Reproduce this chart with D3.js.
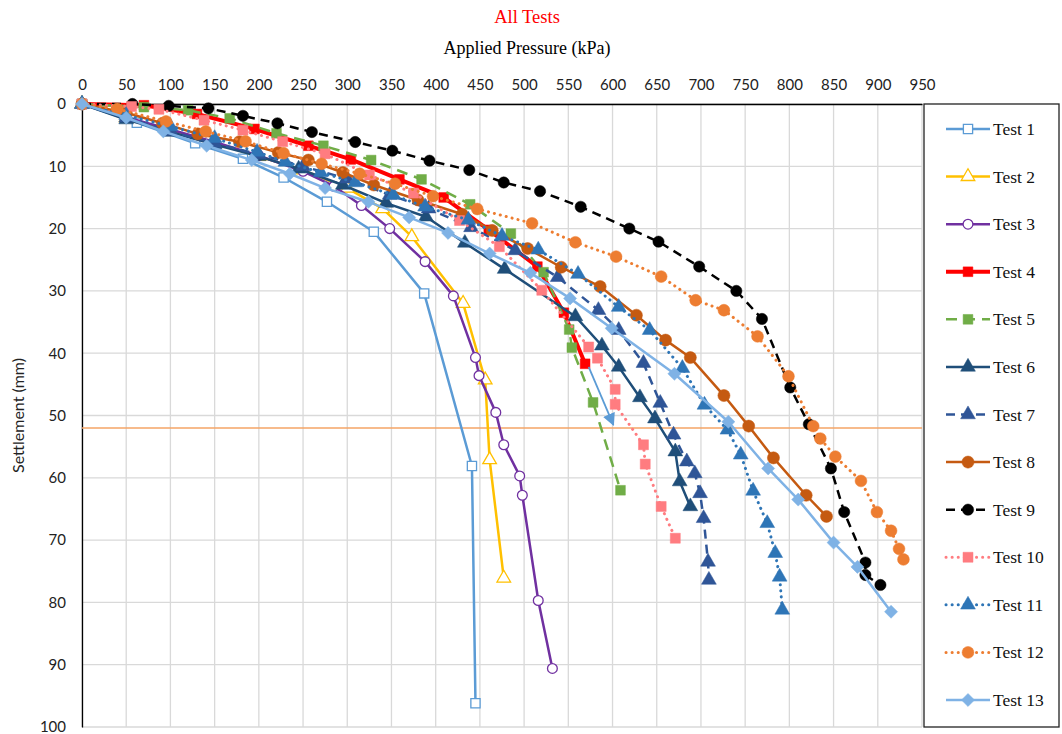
<!DOCTYPE html>
<html><head><meta charset="utf-8">
<script src="https://cdn.jsdelivr.net/npm/d3@7"></script>
<style>body{margin:0;background:#fff}</style>
</head><body>
<svg id="c" width="1062" height="734"></svg>
<script>
// ---------- data ----------
const xTicks = d3.range(0, 951, 50);
const yTicks = d3.range(0, 101, 10);
const seriesNames = ["Test 1","Test 2","Test 3","Test 4","Test 5","Test 6","Test 7","Test 8","Test 9","Test 10","Test 11","Test 12","Test 13"];
const test1 = [[0,0],[62,3.0],[128,6.3],[182,8.8],[228,11.8],[277,15.7],[330,20.5],[387,30.4],[441,58.1],[445,96.2]];
const test2 = [[0,0],[50,2.2],[100,4.3],[150,6.3],[200,8.4],[250,10.6],[300,13.5],[340,16.8],[373,21.3],[431,32.0],[456,44.3],[461,57.1],[477,76.1]];
const test3 = [[0,0],[50,2.1],[100,4.1],[150,6.1],[200,8.3],[250,10.8],[285,13.2],[316,16.3],[348,20.0],[388,25.3],[420,30.8],[445,40.7],[449,43.6],[468,49.5],[477,54.7],[495,59.7],[498,62.8],[516,79.7],[532,90.6]];
const test4 = [[0,0],[70,0.2],[130,1.6],[195,4.0],[256,6.7],[304,8.9],[359,12.1],[409,15.0],[460,20.2],[515,26.1],[545,33.5],[569,41.7]];
const test5 = [[0,0],[70,0.5],[120,1.0],[167,2.3],[220,4.7],[273,6.7],[327,9.0],[384,12.1],[439,16.1],[485,20.8],[522,27.0],[551,36.2],[554,39.1],[578,47.9],[609,62.0]];
const test6 = [[0,0],[50,2.5],[100,4.5],[150,6.5],[200,8.4],[245,10.4],[295,13.0],[344,15.9],[389,18.1],[433,22.3],[478,26.5],[558,34.1],[588,38.8],[607,42.2],[631,47.1],[648,50.5],[671,55.8],[676,60.6],[688,64.6]];
const test7 = [[0,0],[50,2.2],[100,4.4],[150,6.3],[200,8.1],[250,10.0],[300,12.0],[348,14.6],[392,16.8],[440,19.8],[490,23.5],[538,27.8],[584,33.1],[607,36.3],[635,41.6],[654,48.0],[669,53.1],[684,57.4],[693,59.3],[699,62.5],[703,66.5],[708,73.5],[709,76.4]];
const test8 = [[0,0],[50,1.4],[91,3.1],[131,4.8],[178,6.05],[222,7.8],[256,9.0],[295,11.0],[330,13.0],[380,15.4],[430,17.7],[464,20.3],[504,23.2],[542,26.2],[586,29.3],[627,33.9],[660,37.9],[688,40.7],[726,46.8],[754,51.7],[782,56.8],[819,62.8],[842,66.2]];
const test9 = [[0,0],[57,0],[98,0.3],[143,0.7],[182,1.9],[221,3.1],[260,4.5],[309,6.1],[351,7.5],[393,9.1],[438,10.6],[477,12.6],[518,14.0],[564,16.5],[619,20.0],[652,22.1],[698,26.1],[740,30.0],[769,34.5],[801,45.5],[822,51.4],[847,58.5],[862,65.5],[886,73.6],[886,75.6],[903,77.2]];
const test10 = [[0,0],[56,0.4],[87,0.85],[138,2.6],[182,4.2],[227,6.05],[275,8.0],[325,11.4],[375,14.3],[427,18.7],[472,22.9],[520,29.9],[573,39.0],[583,40.8],[603,45.8],[603,48.2],[635,54.7],[637,57.8],[655,64.6],[671,69.7]];
const test11 = [[0,0],[50,1.8],[100,3.6],[150,5.5],[198,7.7],[230,9.3],[270,11.0],[309,12.6],[352,14.6],[388,16.5],[437,18.6],[475,21.2],[516,23.4],[561,27.3],[607,32.6],[642,36.3],[679,42.4],[704,48.3],[730,52.3],[745,56.3],[759,62.1],[775,67.3],[784,72.1],[789,75.9],[792,81.2]];
const test12 = [[0,0],[40,0.8],[95,2.8],[140,4.4],[185,6.0],[228,7.9],[271,9.6],[314,11.2],[354,12.8],[397,14.8],[447,16.85],[509,19.15],[558,22.2],[604,24.5],[655,27.7],[694,31.5],[726,33.1],[764,37.3],[799,43.7],[827,51.7],[835,53.7],[852,56.6],[881,60.5],[899,65.5],[915,68.5],[924,71.4],[929,73.1]];
const test13 = [[0,0],[50,2.2],[92,4.4],[141,6.7],[192,9.0],[235,11.2],[275,13.5],[324,15.7],[370,18.2],[414,20.7],[461,24.0],[507,27.1],[552,31.2],[599,36.0],[670,43.3],[731,51.0],[776,58.5],[810,63.5],[850,70.4],[877,74.3],[915,81.5]];
const limitLine = 52;
const arrowData = [[573,42.2],[601,51.5]];

// ---------- styles ----------
const seriesData = [test1,test2,test3,test4,test5,test6,test7,test8,test9,test10,test11,test12,test13];
const colors = ["#5B9BD5","#FFC000","#7030A0","#FF0000","#70AD47","#1F4E79","#2F5597","#C55A11","#000000","#FF7C80","#2E75B6","#ED7D31","#7FB2E5"];
const symbols = [d3.symbolSquare,d3.symbolTriangle,d3.symbolCircle,d3.symbolSquare,d3.symbolSquare,d3.symbolTriangle,d3.symbolTriangle,d3.symbolCircle,d3.symbolCircle,d3.symbolSquare,d3.symbolTriangle,d3.symbolCircle,d3.symbolSquare];
const rot = [0,0,0,0,0,0,0,0,0,0,0,0,45];
const open = [true,true,true,false,false,false,false,false,false,false,false,false,false];
const dashes = [null,null,null,null,"11,7",null,"9,6",null,"9,6","0.1,6","0.1,6","0.1,6",null];
const widths = [2.5,2.5,2.5,4,2.5,2.5,2.5,2.5,2.5,3,3,3,2.5];
const sizes = [85,80,75,95,95,95,95,115,100,100,95,110,85];

const svg = d3.select("#c");
const L=82,T=104,R=922,B=727;
const x = d3.scaleLinear().domain([0,950]).range([L,R]);
const y = d3.scaleLinear().domain([0,100]).range([T,B]);

// grid
svg.append("g").selectAll("line").data(xTicks).join("line")
  .attr("x1",d=>x(d)).attr("x2",d=>x(d)).attr("y1",T).attr("y2",B)
  .attr("stroke","#D9D9D9").attr("stroke-width",1.3);
svg.append("g").selectAll("line").data(yTicks).join("line")
  .attr("x1",L).attr("x2",R).attr("y1",d=>y(d)).attr("y2",d=>y(d))
  .attr("stroke","#D9D9D9").attr("stroke-width",1.3);

// axes
const xa = svg.append("g").attr("transform",`translate(0,${T})`)
  .call(d3.axisTop(x).tickValues(xTicks).tickSize(0).tickPadding(14));
xa.select(".domain").attr("stroke","#000").attr("stroke-width",1.3);
xa.selectAll("text").attr("font-family","Lato, sans-serif").attr("font-size",15).attr("fill","#222");
const ya = svg.append("g").attr("transform",`translate(${L},0)`)
  .call(d3.axisLeft(y).tickValues(yTicks).tickSize(0).tickPadding(16));
ya.select(".domain").attr("stroke","#000").attr("stroke-width",1.3);
ya.selectAll("text").attr("font-family","Lato, sans-serif").attr("font-size",15).attr("fill","#222");

// titles
svg.append("text").attr("x",527).attr("y",23).attr("text-anchor","middle")
  .attr("font-family","Liberation Serif, serif").attr("font-size",18.5).attr("fill","#FF0000").text("All Tests");
svg.append("text").attr("x",527).attr("y",54).attr("text-anchor","middle")
  .attr("font-family","Liberation Serif, serif").attr("font-size",18).attr("fill","#000").text("Applied Pressure (kPa)");
svg.append("text").attr("transform",`translate(24,${(T+B)/2}) rotate(-90)`).attr("text-anchor","middle")
  .attr("font-family","Lato, sans-serif").attr("font-size",16).attr("fill","#222").text("Settlement (mm)");

// limit line
svg.append("line").attr("x1",L).attr("x2",R).attr("y1",y(limitLine)).attr("y2",y(limitLine))
  .attr("stroke","#F4A466").attr("stroke-width",1.5);

// series
const line = d3.line().x(d=>x(d[0])).y(d=>y(d[1]));
const capOf = i => dashes[i] && dashes[i].startsWith("0.1") ? "round" : "butt";
seriesData.forEach((data,i)=>{
  const g = svg.append("g");
  g.append("path").datum(data).attr("d",line).attr("fill","none")
    .attr("stroke",colors[i]).attr("stroke-width",widths[i])
    .attr("stroke-dasharray",dashes[i]).attr("stroke-linecap",capOf(i))
    .attr("stroke-linejoin","round");
  g.selectAll("path.m").data(data).join("path").attr("class","m")
    .attr("transform",d=>`translate(${x(d[0])},${y(d[1])}) rotate(${rot[i]})`)
    .attr("d",d3.symbol().type(symbols[i]).size(sizes[i]))
    .attr("fill",open[i]?"#fff":colors[i]).attr("stroke",colors[i]).attr("stroke-width",open[i]?1.3:0.5);
});

// arrow annotation
svg.append("defs").append("marker").attr("id","ah").attr("viewBox","0 0 10 10").attr("refX",9).attr("refY",5)
  .attr("markerWidth",7).attr("markerHeight",7).attr("orient","auto")
  .append("path").attr("d","M0,0L10,5L0,10z").attr("fill","#5B9BD5");
svg.append("path").datum(arrowData).attr("d",line).attr("stroke","#5B9BD5").attr("stroke-width",1.8)
  .attr("fill","none").attr("marker-end","url(#ah)");

// legend
const lg = svg.append("g");
lg.append("rect").attr("x",924).attr("y",T).attr("width",135).attr("height",B-T)
  .attr("fill","#fff").attr("stroke","#222").attr("stroke-width",1.3);
const ly = d3.scalePoint().domain(seriesNames).range([129,700]);
seriesNames.forEach((n,i)=>{
  const yy = ly(n);
  lg.append("line").attr("x1",946).attr("x2",990).attr("y1",yy).attr("y2",yy)
    .attr("stroke",colors[i]).attr("stroke-width",widths[i]).attr("stroke-dasharray",dashes[i])
    .attr("stroke-linecap",capOf(i));
  lg.append("path").attr("transform",`translate(968,${yy}) rotate(${rot[i]})`).attr("d",d3.symbol().type(symbols[i]).size(sizes[i]))
    .attr("fill",open[i]?"#fff":colors[i]).attr("stroke",colors[i]).attr("stroke-width",open[i]?1.3:0.5);
  lg.append("text").attr("x",993).attr("y",yy+6).attr("font-family","Liberation Serif, serif")
    .attr("font-size",17.5).attr("fill","#111").text(n);
});
</script>
</body></html>
